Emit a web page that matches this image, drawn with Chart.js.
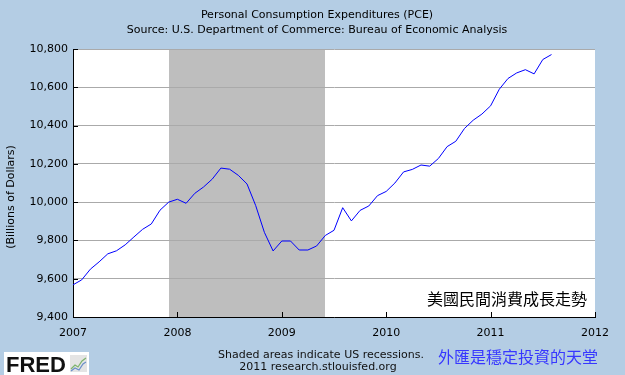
<!DOCTYPE html>
<html><head><meta charset="utf-8">
<script src="https://cdn.jsdelivr.net/npm/chart.js@4/dist/chart.umd.min.js"></script>
<style>html,body{margin:0;padding:0;background:#B4CDE4;overflow:hidden}</style>
</head><body>
<canvas id="c" width="625" height="375"></canvas>
<script>
// ---- data ----
const months = [
 '2007-01','2007-02','2007-03','2007-04','2007-05','2007-06','2007-07','2007-08','2007-09','2007-10','2007-11','2007-12',
 '2008-01','2008-02','2008-03','2008-04','2008-05','2008-06','2008-07','2008-08','2008-09','2008-10','2008-11','2008-12',
 '2009-01','2009-02','2009-03','2009-04','2009-05','2009-06','2009-07','2009-08','2009-09','2009-10','2009-11','2009-12',
 '2010-01','2010-02','2010-03','2010-04','2010-05','2010-06','2010-07','2010-08','2010-09','2010-10','2010-11','2010-12',
 '2011-01','2011-02','2011-03','2011-04','2011-05','2011-06','2011-07','2011-08'];
const pce = [
 9568, 9594, 9650, 9688, 9730, 9746, 9777, 9818, 9858, 9886, 9958, 10000,
 10015, 9994, 10046, 10079, 10120, 10178, 10172, 10140, 10095, 9982, 9842, 9745,
 9797, 9797, 9750, 9750, 9771, 9826, 9853, 9971, 9902, 9957, 9980, 10034,
 10056, 10100, 10158, 10171, 10194, 10188, 10228, 10290, 10318, 10385, 10428, 10460,
 10503, 10590, 10646, 10675, 10692, 10670, 10745, 10771];
const recessionStart = '2007-12';
const recessionEnd = '2009-06';
const xTickYears = [2007, 2008, 2009, 2010, 2011, 2012];
const yTickValues = [9400, 9600, 9800, 10000, 10200, 10400, 10600, 10800];

const titleText = 'Personal Consumption Expenditures (PCE)';
const subtitleText = 'Source: U.S. Department of Commerce: Bureau of Economic Analysis';
const yTitleText = '(Billions of Dollars)';
const annotationText = '美國民間消費成長走勢';
const footer1 = 'Shaded areas indicate US recessions.';
const footer2 = '2011 research.stlouisfed.org';
const footerCN = '外匯是穩定投資的天堂';

const baseYear = xTickYears[0];
function monthIndex(s){ const p = s.split('-').map(Number); return (p[0]-baseYear)*12 + (p[1]-1); }

const FONT = 'DejaVu Sans';
const CJK = '"Noto Sans CJK TC"';

const decor = {
  id: 'decor',
  beforeDraw(chart){
    const {ctx, chartArea: a, scales:{x}} = chart;
    ctx.save();
    ctx.fillStyle = '#B4CDE4';
    ctx.fillRect(0,0,chart.width,chart.height);
    ctx.fillStyle = '#FFFFFF';
    ctx.fillRect(a.left, a.top, a.right-a.left, a.bottom-a.top);
    const x0 = x.getPixelForValue(monthIndex(recessionStart));
    const x1 = x.getPixelForValue(monthIndex(recessionEnd));
    ctx.fillStyle = '#BEBEBE';
    ctx.fillRect(Math.round(x0), a.top, Math.round(x1)-Math.round(x0), a.bottom-a.top);
    ctx.restore();
  },
  afterDraw(chart){
    const {ctx, chartArea: a, scales:{x,y}} = chart;
    ctx.save();
    // inside tick marks
    ctx.strokeStyle = '#000'; ctx.lineWidth = 1;
    ctx.beginPath();
    y.ticks.forEach(t => {
      const py = Math.round(y.getPixelForValue(t.value)) + 0.5;
      ctx.moveTo(a.left, py); ctx.lineTo(a.left+5, py);
    });
    x.ticks.forEach(t => {
      const px = Math.round(x.getPixelForValue(t.value)) + 0.5;
      ctx.moveTo(px, a.bottom); ctx.lineTo(px, a.bottom-5);
    });
    ctx.stroke();

    // titles
    ctx.fillStyle = '#000';
    ctx.textAlign = 'center'; ctx.textBaseline = 'middle';
    ctx.font = '11px "' + FONT + '"';
    ctx.fillText(titleText, 317, 15);
    ctx.fillText(subtitleText, 317, 30);

    // y title
    ctx.save();
    ctx.translate(11, 197); ctx.rotate(-Math.PI/2);
    ctx.fillText(yTitleText, 0, 0);
    ctx.restore();

    // annotation in plot
    ctx.textAlign = 'right';
    ctx.font = '16px ' + CJK;
    ctx.fillText(annotationText, 587, 299);

    // footers
    ctx.textAlign = 'center';
    ctx.font = '11px "' + FONT + '"';
    ctx.fillStyle = '#111';
    ctx.fillText(footer1, 321, 355);
    ctx.fillText(footer2, 318, 367);
    ctx.textAlign = 'left';
    ctx.font = '16px ' + CJK;
    ctx.fillStyle = '#3737FF';
    ctx.fillText(footerCN, 438, 357);

    // FRED logo
    ctx.fillStyle = '#FFFFFF';
    ctx.fillRect(4, 352, 85, 23);
    ctx.fillStyle = '#111';
    ctx.textBaseline = 'alphabetic';
    ctx.font = 'bold 22px "Liberation Sans"';
    ctx.fillText('FRED', 6, 372);
    ctx.fillStyle = '#E4E4E4';
    ctx.fillRect(70, 355, 17, 17);
    ctx.lineWidth = 1.2;
    ctx.strokeStyle = '#7DB46C';
    ctx.beginPath(); ctx.moveTo(71,369); ctx.lineTo(75,365); ctx.lineTo(78,367); ctx.lineTo(82,361); ctx.lineTo(86,358); ctx.stroke();
    ctx.strokeStyle = '#6A8FC8';
    ctx.beginPath(); ctx.moveTo(71,371); ctx.lineTo(75,368); ctx.lineTo(79,370); ctx.lineTo(83,364); ctx.lineTo(86,362); ctx.stroke();
    ctx.restore();
  }
};

new Chart(document.getElementById('c'), {
  type: 'line',
  data: {
    datasets: [{
      data: months.map((m,i) => ({x: monthIndex(m), y: pce[i]})),
      borderColor: '#0000FF',
      borderWidth: 1,
      pointRadius: 0,
      tension: 0,
      fill: false
    }]
  },
  options: {
    responsive: false,
    animation: false,
    devicePixelRatio: 1,
    layout: { padding: { top: 49, right: 30, left: 0, bottom: 0 } },
    plugins: { legend: {display:false}, tooltip: {enabled:false}, title:{display:false} },
    scales: {
      x: {
        type: 'linear',
        min: 0,
        max: (xTickYears[xTickYears.length-1]-baseYear)*12,
        afterBuildTicks: s => { s.ticks = xTickYears.map(yv => ({value: (yv-baseYear)*12})); },
        afterFit: s => { s.height = 58; },
        ticks: {
          autoSkip: false, maxRotation: 0, padding: 10,
          color: '#000', font: {family: FONT, size: 11},
          callback: v => String(baseYear + v/12)
        },
        grid: { display: false, drawTicks: false },
        border: { display: true, color: '#000', width: 1 }
      },
      y: {
        min: yTickValues[0],
        max: yTickValues[yTickValues.length-1],
        afterBuildTicks: s => { s.ticks = yTickValues.map(v => ({value: v})); },
        afterFit: s => { s.width = 73; },
        ticks: {
          padding: 5, color: '#000', font: {family: FONT, size: 11},
          callback: v => v.toLocaleString('en-US')
        },
        grid: { color: '#AAAAAA', lineWidth: 1, drawTicks: false },
        border: { display: true, color: '#000', width: 1 }
      }
    }
  },
  plugins: [decor]
});
</script>
</body></html>
